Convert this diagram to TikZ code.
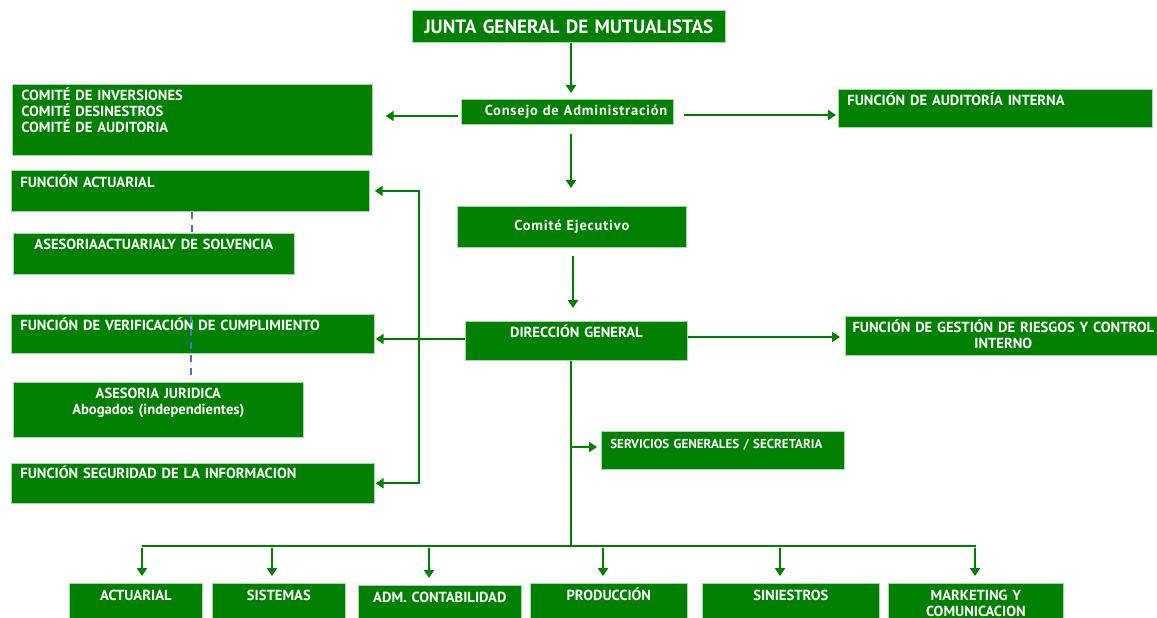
\documentclass[tikz,border=0pt]{standalone}
\usepackage{fontspec}
\setmainfont{PT Sans}
\usetikzlibrary{arrows.meta}

\definecolor{verde}{RGB}{0,128,0}
\definecolor{bordeverde}{RGB}{170,215,170}
\definecolor{azul}{RGB}{70,115,200}

\tikzset{
 caja/.style n args={3}{fill=verde, draw=bordeverde, line width=0.7pt, anchor=north west,
   inner xsep=9pt, inner ysep=0pt, text=white, align=left,
   text width={#1pt-18pt}, text height=#3pt, text depth={#2pt-#3pt},
   font=\bfseries\fontsize{14.6}{15.7}\selectfont},
 espaciada/.style={font=\bfseries\fontsize{14.5}{16}\selectfont\addfontfeatures{LetterSpace=5.5}},
 flecha/.style={draw=verde, line width=1.8pt, -{Triangle[width=10pt,length=8pt]}},
 linea/.style={draw=verde, line width=1.8pt},
 punteada/.style={draw=azul, line width=1.3pt, dash pattern=on 7pt off 6pt}
}

\begin{document}
\begin{tikzpicture}[x=1pt,y=-1pt]
 \useasboundingbox (0,0) rectangle (1157,618);

 \node[caja={313}{32}{23}, align=center, font=\bfseries\fontsize{19.2}{22}\selectfont, name=junta] at (412,10) {JUNTA GENERAL DE MUTUALISTAS};
 \node[caja={212}{25}{16}, espaciada, align=right, text width=200pt, inner xsep=6pt, name=consejo] at (461,99) {\mbox{Consejo de Administración}};
 \node[caja={360}{71}{16.5}, name=comites] at (12,84) {COMITÉ DE INVERSIONES\\COMITÉ DESINESTROS\\COMITÉ DE AUDITORIA};
 \node[caja={314}{38}{16}, name=auditoria] at (838,89) {FUNCIÓN DE AUDITORÍA INTERNA};
 \node[caja={229}{41}{24}, align=center, espaciada, name=ejecutivo] at (457,206) {Comité Ejecutivo};
 \node[caja={222}{39}{16}, align=center, name=direccion] at (465,321) {DIRECCIÓN GENERAL};
 \node[caja={316}{39}{16}, align=center, text width=316pt, inner xsep=0pt, name=gestion] at (845,316) {FUNCIÓN DE GESTIÓN DE RIESGOS Y CONTROL\\INTERNO};

 \node[caja={358}{41}{17}, name=factuarial] at (11,170) {FUNCIÓN ACTUARIAL};
 \node[caja={281}{41}{16}, align=center, name=asesoria] at (13,233) {ASESORIAACTUARIALY DE SOLVENCIA};
 \node[caja={363}{39}{16.5}, name=verificacion] at (11,314) {FUNCIÓN DE VERIFICACIÓN DE CUMPLIMIENTO};
 \node[caja={290}{55}{16.5}, align=center, name=juridica] at (13,382) {ASESORIA JURIDICA\\Abogados (independientes)};
 \node[caja={363}{40}{15.5}, name=seguridad] at (11,463) {FUNCIÓN SEGURIDAD DE LA INFORMACION};
 \node[caja={243}{38}{17.5}, font=\bfseries\fontsize{13}{15}\selectfont, name=servicios] at (601,431) {SERVICIOS GENERALES / SECRETARIA};

 \node[caja={133}{37}{17}, align=center, name=actuarial] at (69,583) {ACTUARIAL};
 \node[caja={133}{37}{17}, align=center, name=sistemas] at (212,583) {SISTEMAS};
 \node[caja={163}{35}{17}, align=center, name=contabilidad] at (358,585) {ADM. CONTABILIDAD};
 \node[caja={157}{37}{17}, align=center, name=produccion] at (530,583) {PRODUCCIÓN};
 \node[caja={177}{37}{17}, align=center, name=siniestros] at (702,583) {SINIESTROS};
 \node[caja={175}{37}{17}, align=center, name=marketing] at (888,583) {MARKETING Y\\COMUNICACION};

 \coordinate (eje) at (571,0);
 \coordinate (bus) at (419,339);
 \coordinate (barra) at (571,546);

 \draw[flecha, shorten >=6pt] (junta.south -| eje) -- (consejo.north -| eje);
 \draw[flecha, shorten <=3pt, shorten >=13pt] (consejo.west |- 0,116) -- (comites.east |- 0,116);
 \draw[flecha, shorten <=10pt, shorten >=2pt] (consejo.east |- 0,115) -- (auditoria.west |- 0,115);
 \draw[flecha, shorten <=9pt, shorten >=18pt] (consejo.south -| eje) -- (ejecutivo.north -| eje);
 \draw[flecha, shorten <=8pt, shorten >=13pt] (ejecutivo.south -| 573,0) -- (direccion.north -| 573,0);
 \draw[flecha, shorten >=1pt] (direccion.west |- 0,339) -- (verificacion.east |- 0,339);
 \draw[flecha, shorten >=5pt] (direccion.east |- 0,337) -- (gestion.west |- 0,337);
 \draw[flecha, shorten >=5pt] (bus) |- (factuarial);
 \draw[flecha, shorten >=1pt] (bus) |- (seguridad);

 \draw[linea] (direccion.south -| barra) -- (barra);
 \draw[flecha, shorten >=4pt] (barra |- 0,447) -- (servicios.west |- 0,447);
 \draw[linea] (barra -| 142,0) -- (barra -| 976,0);
 \foreach \x/\dest in {142/actuarial, 272/sistemas, 429/contabilidad, 603/produccion, 780/siniestros, 975/marketing}
   \draw[flecha, shorten <=2pt, shorten >=7pt] (barra -| \x,0) -- (\dest.north -| \x,0);

 \draw[punteada] (factuarial.south -| 192,0) -- (asesoria.north -| 192,0);
 \draw[punteada, shorten <=2pt, shorten >=7pt] (verificacion.north -| 191,0) -- (juridica.north -| 191,0);
\end{tikzpicture}
\end{document}
